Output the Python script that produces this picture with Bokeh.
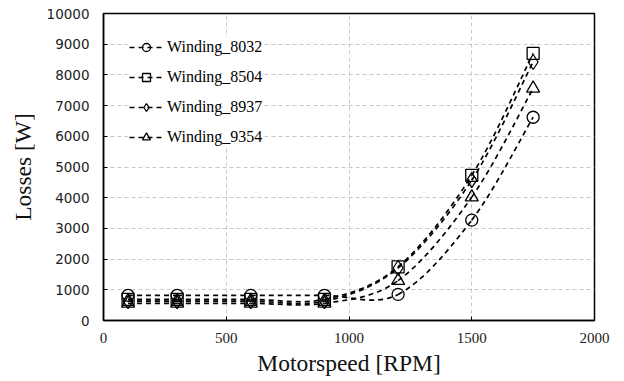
from bokeh.plotting import figure
from bokeh.models import Range1d, FixedTicker, Legend, LegendItem, ColumnDataSource
from bokeh.embed import file_html
from bokeh.resources import INLINE

speed = [100, 300, 600, 900, 1200, 1500, 1750]
w8032 = [820, 820, 820, 820, 850, 3270, 6620]
w8504 = [690, 690, 690, 690, 1750, 4730, 8700]
w8937 = [630, 630, 630, 630, 1710, 4570, 8420]
w9354 = [560, 560, 560, 560, 1300, 4020, 7560]

series = [
    ("Winding_8032", w8032, "circle", 12),
    ("Winding_8504", w8504, "square", 12),
    ("Winding_8937", w8937, "diamond", 15),
    ("Winding_9354", w9354, "triangle", 13),
]
x_ticks = [0, 500, 1000, 1500, 2000]
y_ticks = list(range(0, 10001, 1000))


def smooth_segments(xs, ys):
    """Catmull-Rom style bezier segments (like a spreadsheet 'smoothed line')."""
    n = len(xs)

    def pt(i):
        i = min(max(i, 0), n - 1)
        return xs[i], ys[i]

    d = dict(x0=[], y0=[], x1=[], y1=[], cx0=[], cy0=[], cx1=[], cy1=[])
    for i in range(n - 1):
        xm, ym = pt(i - 1)
        xa, ya = pt(i)
        xb, yb = pt(i + 1)
        xp, yp = pt(i + 2)
        d["x0"].append(xa); d["y0"].append(ya)
        d["x1"].append(xb); d["y1"].append(yb)
        d["cx0"].append(xa + (xb - xm) / 6.0)
        d["cy0"].append(ya + (yb - ym) / 6.0)
        d["cx1"].append(xb - (xp - xa) / 6.0)
        d["cy1"].append(yb - (yp - ya) / 6.0)
    return ColumnDataSource(d)


p = figure(width=624, height=381, output_backend="svg", toolbar_location=None,
           x_range=Range1d(0, 2000), y_range=Range1d(0, 10000),
           min_border_left=103, min_border_right=30, min_border_top=13, min_border_bottom=61)

items = []
for label, vals, marker, size in series:
    src = smooth_segments(speed, vals)
    bez = p.bezier(x0="x0", y0="y0", x1="x1", y1="y1", cx0="cx0", cy0="cy0",
                   cx1="cx1", cy1="cy1", source=src, line_color="black",
                   line_dash="5 4", line_width=1.7)
    sc = p.scatter(speed, vals, marker=marker, size=size, fill_color=None,
                   line_color="black", line_width=1.3)
    items.append(LegendItem(label=label, renderers=[bez, sc]))

legend = Legend(items=items, location=(26, 173), margin=0, padding=4,
                spacing=10, glyph_width=34, glyph_height=20, label_height=20,
                label_standoff=4, border_line_color=None,
                background_fill_color="white", background_fill_alpha=1.0)
p.add_layout(legend)
legend.label_text_font = "Times New Roman"
legend.label_text_font_size = "16px"
legend.label_text_color = "black"

p.xaxis.ticker = FixedTicker(ticks=x_ticks)
p.yaxis.ticker = FixedTicker(ticks=y_ticks)
for ax in (p.xaxis[0], p.yaxis[0]):
    ax.major_tick_in = 4
    ax.major_tick_out = 0
    ax.minor_tick_line_color = None
    ax.axis_line_width = 1.5
    ax.axis_line_color = "black"
    ax.major_tick_line_color = "black"
    ax.major_label_text_color = "#222222"
    ax.axis_label_text_font = "Liberation Serif"
    ax.axis_label_text_font_style = "normal"
    ax.axis_label_text_font_size = "23.5px"
    ax.axis_label_text_color = "#111111"

p.xaxis.axis_label = "Motorspeed [RPM]"
p.yaxis.axis_label = "Losses [W]"
p.xaxis.major_label_text_font = "Liberation Serif"
p.xaxis.major_label_text_font_size = "15px"
p.xaxis.major_label_standoff = 12
p.xaxis.axis_label_standoff = 4
p.yaxis.major_label_text_font = "DejaVu Sans"
p.yaxis.major_label_text_font_size = "13.5px"
p.yaxis.major_label_standoff = 14
p.yaxis.axis_label_standoff = 8

p.xgrid.ticker = FixedTicker(ticks=x_ticks)
p.ygrid.ticker = FixedTicker(ticks=y_ticks)
for g in (p.xgrid[0], p.ygrid[0]):
    g.grid_line_color = "#c8c8c8"
    g.grid_line_dash = "4 3"
    g.grid_line_width = 1

p.outline_line_color = "black"
p.outline_line_width = 1.5
p.background_fill_color = "white"
p.border_fill_color = "white"

open("out.html", "w").write(file_html(p, INLINE))
